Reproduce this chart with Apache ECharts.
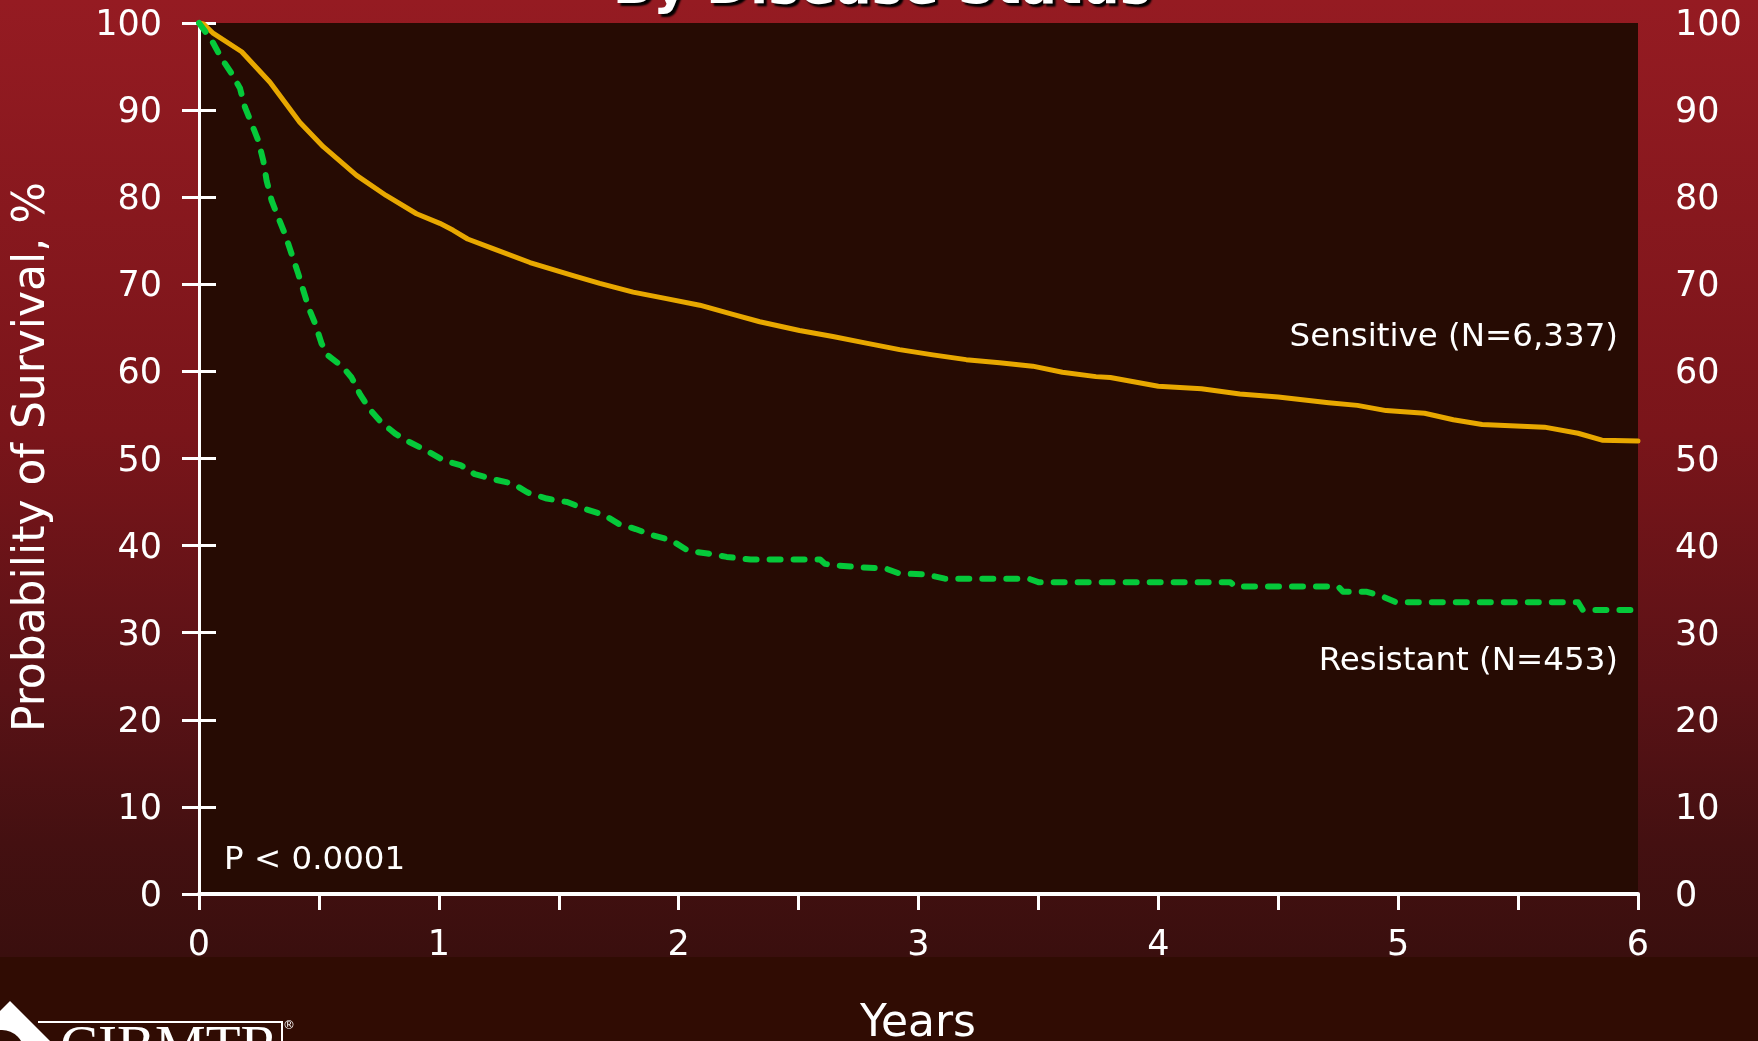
<!DOCTYPE html>
<html><head><meta charset="utf-8">
<script src="https://cdn.jsdelivr.net/npm/echarts@6/dist/echarts.min.js"></script>
<style>html,body{margin:0;padding:0;background:#300c03;}#c{width:1758px;height:1041px;}</style>
</head><body><div id="c"></div>
<script>
// ---- data (years, survival %) ----
const sensitive = [[0,100],[0.018,99.9],[0.06,98.8],[0.178,96.7],[0.296,93.2],[0.42,88.6],[0.518,85.8],[0.657,82.5],[0.78,80.2],[0.907,78.1],[1.004,77.0],[1.06,76.2],[1.12,75.2],[1.226,74.1],[1.38,72.5],[1.56,71.0],[1.671,70.1],[1.81,69.1],[1.949,68.35],[2.088,67.6],[2.226,66.55],[2.338,65.7],[2.504,64.7],[2.643,64.0],[2.782,63.25],[2.921,62.5],[3.06,61.9],[3.199,61.35],[3.338,61.0],[3.476,60.6],[3.6,59.9],[3.74,59.4],[3.8,59.3],[4.0,58.3],[4.18,58.0],[4.34,57.4],[4.5,57.05],[4.71,56.4],[4.83,56.1],[4.95,55.5],[5.11,55.2],[5.23,54.45],[5.35,53.9],[5.61,53.6],[5.75,52.9],[5.85,52.1],[6.0,52.0]];
const resistant = [[0,100],[0.007,100],[0.053,98.0],[0.095,95.9],[0.136,94.2],[0.171,92.5],[0.192,90.3],[0.22,88.4],[0.247,86.5],[0.268,84.2],[0.282,81.9],[0.303,79.6],[0.33,77.7],[0.358,75.8],[0.386,73.5],[0.414,71.2],[0.435,69.3],[0.456,67.4],[0.484,65.5],[0.511,63.2],[0.539,61.8],[0.6,60.5],[0.636,59.3],[0.671,57.4],[0.71,55.7],[0.758,54.2],[0.818,52.85],[0.877,51.9],[0.949,50.9],[1.02,49.8],[1.093,49.2],[1.15,48.2],[1.23,47.6],[1.31,47.1],[1.37,46.1],[1.45,45.4],[1.535,45.0],[1.61,44.2],[1.69,43.5],[1.75,42.5],[1.82,41.9],[1.89,41.2],[1.97,40.6],[2.04,39.4],[2.12,39.1],[2.2,38.7],[2.3,38.4],[2.59,38.4],[2.61,37.9],[2.67,37.7],[2.755,37.5],[2.86,37.4],[2.92,36.8],[3.03,36.7],[3.11,36.2],[3.46,36.2],[3.5,35.8],[4.30,35.8],[4.32,35.3],[4.75,35.3],[4.77,34.7],[4.87,34.7],[4.94,34.1],[4.99,33.5],[5.75,33.5],[5.77,32.6],[6.0,32.6]];
const seriesNames = ['Sensitive (N=6,337)', 'Resistant (N=453)'];
const titleText = 'By Disease Status';
const xTitle = 'Years';
const yTitle = 'Probability of Survival, %';
const pText = 'P < 0.0001';

const FONT = '"DejaVu Sans", Verdana, sans-serif';
const chart = echarts.init(document.getElementById('c'), null, {renderer: 'canvas'});

const axisCommonY = {
  type: 'value', min: 0, max: 100, interval: 10,
  axisLine: {show: true, lineStyle: {color: '#fff', width: 3}},
  axisTick: {show: true, length: 17, lineStyle: {color: '#fff', width: 3}},
  axisLabel: {color: '#fff', fontSize: 35, fontFamily: FONT, margin: 37,
    formatter: v => '{v|' + v + '}',
    rich: {v: {color: '#fff', fontSize: 35, fontFamily: FONT, padding: [6, 0, 0, 0]}}},
  splitLine: {show: false}
};

chart.setOption({
  animation: false,
  grid: {left: 199, right: 120, top: 23, bottom: 147, show: true, backgroundColor: '#260b03', borderWidth: 0},
  xAxis: [{
    type: 'value', min: 0, max: 6, interval: 0.5, position: 'bottom',
    axisLine: {show: true, onZero: false, lineStyle: {color: '#fff', width: 3}},
    axisTick: {show: true, length: 16, lineStyle: {color: '#fff', width: 3}},
    axisLabel: {color: '#fff', fontSize: 35, fontFamily: FONT, margin: 34,
      formatter: v => Number.isInteger(v) ? String(v) : ''},
    splitLine: {show: false}
  }, {
    type: 'value', min: 0, max: 6, position: 'top',
    axisLine: {show: true, lineStyle: {color: '#fff', width: 4}},
    axisTick: {show: false}, axisLabel: {show: false}, splitLine: {show: false}
  }],
  yAxis: [Object.assign({position: 'left'}, axisCommonY), Object.assign({position: 'right'}, axisCommonY)],
  series: [{
    name: seriesNames[0], type: 'line', data: sensitive, showSymbol: false, clip: false,
    xAxisIndex: 0, yAxisIndex: 0, z: 3,
    lineStyle: {color: '#e8a800', width: 5, cap: 'round', join: 'round'}
  }, {
    name: seriesNames[1], type: 'line', data: resistant, showSymbol: false, clip: false,
    xAxisIndex: 0, yAxisIndex: 0, z: 4,
    lineStyle: {color: '#05c93a', width: 6, type: [11, 13], cap: 'round', join: 'round'}
  }],
  graphic: [
    {type: 'rect', z: -100, silent: true, shape: {x: 0, y: 0, width: 1758, height: 957},
      style: {fill: new echarts.graphic.LinearGradient(0, 0, 0, 1, [
        {offset: 0, color: '#951b22'}, {offset: 0.45, color: '#7a151a'},
        {offset: 0.72, color: '#5a1216'}, {offset: 0.88, color: '#441011'}, {offset: 1, color: '#3a0f0e'}])}},
    {type: 'rect', z: -100, silent: true, shape: {x: 0, y: 957, width: 1758, height: 84}, style: {fill: '#300c03'}},
    {type: 'text', z: 10, style: {text: titleText, x: 882, y: -11, textAlign: 'center', textVerticalAlign: 'middle',
      font: 'bold 53px ' + FONT, fill: '#fff', textShadowColor: '#000', textShadowBlur: 2, textShadowOffsetX: 3, textShadowOffsetY: 3}},
    {type: 'text', z: 10, rotation: Math.PI / 2, x: 33, y: 457,
      style: {text: yTitle, x: 0, y: 0, textAlign: 'center', textVerticalAlign: 'middle', font: '44px ' + FONT, fill: '#fff'}},
    {type: 'text', z: 10, style: {text: xTitle, x: 918, y: 1025, textAlign: 'center', textVerticalAlign: 'middle', font: '44px ' + FONT, fill: '#fff'}},
    {type: 'text', z: 10, style: {text: seriesNames[0], x: 1618, y: 338, textAlign: 'right', textVerticalAlign: 'middle', font: '32.5px ' + FONT, fill: '#fff'}},
    {type: 'text', z: 10, style: {text: seriesNames[1], x: 1618, y: 662, textAlign: 'right', textVerticalAlign: 'middle', font: '32.5px ' + FONT, fill: '#fff'}},
    {type: 'text', z: 10, style: {text: pText, x: 224, y: 861, textAlign: 'left', textVerticalAlign: 'middle', font: '32.5px ' + FONT, fill: '#fff'}},
    // CIBMTR logo (partly cut off at the bottom)
    {type: 'polygon', z: 10, shape: {points: [[10, 1001], [62, 1053], [-42, 1053]]}, style: {fill: '#fff'}},
    {type: 'circle', z: 11, shape: {cx: 2, cy: 1052, r: 22}, style: {fill: '#300c03'}},
    {type: 'polyline', z: 10, shape: {points: [[38, 1022], [282, 1022], [282, 1045]]}, style: {stroke: '#fff', lineWidth: 2, fill: null}},
    {type: 'text', z: 10, style: {text: 'CIBMTR', x: 60, y: 1050, textAlign: 'left', textVerticalAlign: 'middle', font: '57px "Liberation Serif", serif', fill: '#fff'}},
    {type: 'text', z: 10, style: {text: '®', x: 289, y: 1026, textAlign: 'center', textVerticalAlign: 'middle', font: '12px ' + FONT, fill: '#fff'}}
  ]
});
</script></body></html>
